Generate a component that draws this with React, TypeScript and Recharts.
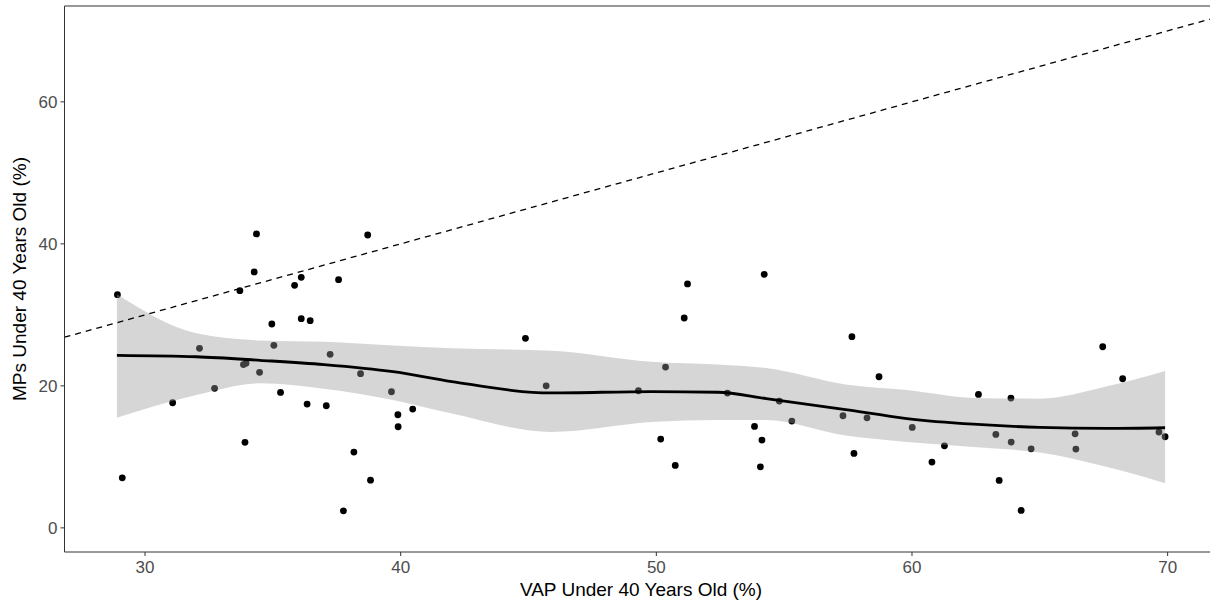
import React from 'react';
import {
  ComposedChart,
  Scatter,
  Area,
  Line,
  XAxis,
  YAxis,
  ReferenceLine,
} from 'recharts';

document.body.style.margin = '0';

// VAP under 40 (%) vs MPs under 40 (%), one entry per country
const vapUnder40 = [
  28.92, 29.11, 31.08, 32.13, 32.72, 33.71, 33.85, 33.95, 33.91, 34.27, 34.36, 34.48,
  34.96, 35.04, 35.3, 35.85, 36.11, 36.11, 36.34, 36.46, 37.09, 37.24, 37.57, 37.76,
  38.17, 38.43, 38.71, 38.82, 39.64, 39.89, 39.9, 40.47, 44.88, 45.69, 49.3, 50.17,
  50.36, 50.74, 51.09, 51.22, 52.78, 53.84, 54.07, 54.13, 54.22, 54.81, 55.3, 57.3,
  57.65, 57.73, 58.24, 58.71, 60.01, 60.78, 61.27, 62.6, 63.28, 63.41, 63.87, 63.88,
  64.27, 64.66, 66.38, 66.41, 67.46, 68.24, 69.66, 69.9,
];
const mpsUnder40 = [
  32.84, 7.05, 17.62, 25.29, 19.65, 33.4, 23.0, 23.2, 12.04, 36.04, 41.4, 21.9,
  28.71, 25.71, 19.08, 34.16, 35.29, 29.46, 17.43, 29.18, 17.2, 24.44, 34.95, 2.4,
  10.67, 21.71, 41.25, 6.72, 19.17, 15.93, 14.24, 16.73, 26.69, 20.01, 19.31, 12.5,
  22.65, 8.79, 29.56, 34.35, 18.99, 14.29, 8.6, 12.36, 35.71, 17.86, 15.04, 15.79,
  26.92, 10.49, 15.5, 21.28, 14.15, 9.26, 11.56, 18.8, 13.16, 6.68, 18.28, 12.08,
  2.45, 11.13, 13.25, 11.09, 25.51, 21.0, 13.49, 12.83,
];

// loess fit with its confidence band
const smoothX = [28.9, 32, 34.5, 37, 39.7, 42, 45.9, 49.8, 52.4, 54.3, 57.4, 59.8, 62.4, 65, 67.6, 69.9];
const smoothFit = [24.3, 24.1, 23.6, 23.0, 22.0, 20.6, 19.0, 19.2, 19.1, 18.2, 16.65, 15.4, 14.6, 14.15, 14.0, 14.1];
const smoothHigh = [32.9, 27.4, 26.4, 26.2, 25.7, 25.3, 24.95, 23.4, 23.0, 22.5, 20.2, 19.4, 18.3, 18.2, 19.9, 22.1];
const smoothLow = [15.5, 18.7, 20.35, 19.6, 18.0, 16.1, 13.5, 14.9, 15.2, 15.2, 13.0, 12.1, 11.4, 10.6, 8.6, 6.3];

// 45-degree parity line
const parityLine = [26.85, 71.95];

const xTicks = [30, 40, 50, 60, 70];
const yTicks = [0, 20, 40, 60];
const xDomain = [26.85, 71.95];
const yDomain = [-3.4, 73.5];

const points = vapUnder40.map((x, i) => ({ x, y: mpsUnder40[i] }));
const smooth = smoothX.map((x, i) => ({
  x,
  fit: smoothFit[i],
  band: [smoothLow[i], smoothHigh[i]],
}));

const font = '"Liberation Sans", Arial, sans-serif';
const tickStyle = { fontSize: 17, fill: '#4d4d4d', fontFamily: font };

export default function App() {
  return (
    <div style={{ width: 1210, height: 602, overflow: 'hidden', background: '#fff' }}>
      <ComposedChart
        width={1220}
        height={602}
        margin={{ top: 6, right: 2.5, bottom: 0, left: 0 }}
      >
        <XAxis
          type="number"
          dataKey="x"
          domain={xDomain}
          ticks={xTicks}
          allowDataOverflow
          height={50}
          stroke="#333"
          tickSize={4}
          tickMargin={5}
          tick={tickStyle}
          label={{
            value: 'VAP Under 40 Years Old (%)',
            position: 'insideBottom',
            offset: 6,
            style: { fontSize: 19, fill: '#000', fontFamily: font },
          }}
        />
        <YAxis
          type="number"
          domain={yDomain}
          ticks={yTicks}
          allowDataOverflow
          width={64.5}
          stroke="#333"
          tickSize={4}
          tickMargin={3}
          tick={tickStyle}
          label={{
            value: 'MPs Under 40 Years Old (%)',
            angle: -90,
            position: 'center',
            dx: -12.75,
            style: { fontSize: 19, fill: '#000', fontFamily: font, textAnchor: 'middle' },
          }}
        />
        <ReferenceLine y={yDomain[1]} stroke="#333" strokeWidth={1.1} />
        <Scatter
          data={points}
          dataKey="y"
          isAnimationActive={false}
          zIndex={50}
          shape={(p: any) => <circle cx={p.cx} cy={p.cy} r={3.4} fill="#000" />}
        />
        <Area
          data={smooth}
          dataKey="band"
          type="monotone"
          stroke="none"
          fill="#999999"
          fillOpacity={0.4}
          isAnimationActive={false}
          zIndex={100}
        />
        <Line
          data={smooth}
          dataKey="fit"
          type="monotone"
          stroke="#000"
          strokeWidth={2.8}
          dot={false}
          isAnimationActive={false}
          zIndex={200}
        />
        <ReferenceLine
          segment={[
            { x: parityLine[0], y: parityLine[0] },
            { x: parityLine[1], y: parityLine[1] },
          ]}
          stroke="#000"
          strokeWidth={1.3}
          strokeDasharray="6 5"
          zIndex={300}
        />
      </ComposedChart>
    </div>
  );
}
